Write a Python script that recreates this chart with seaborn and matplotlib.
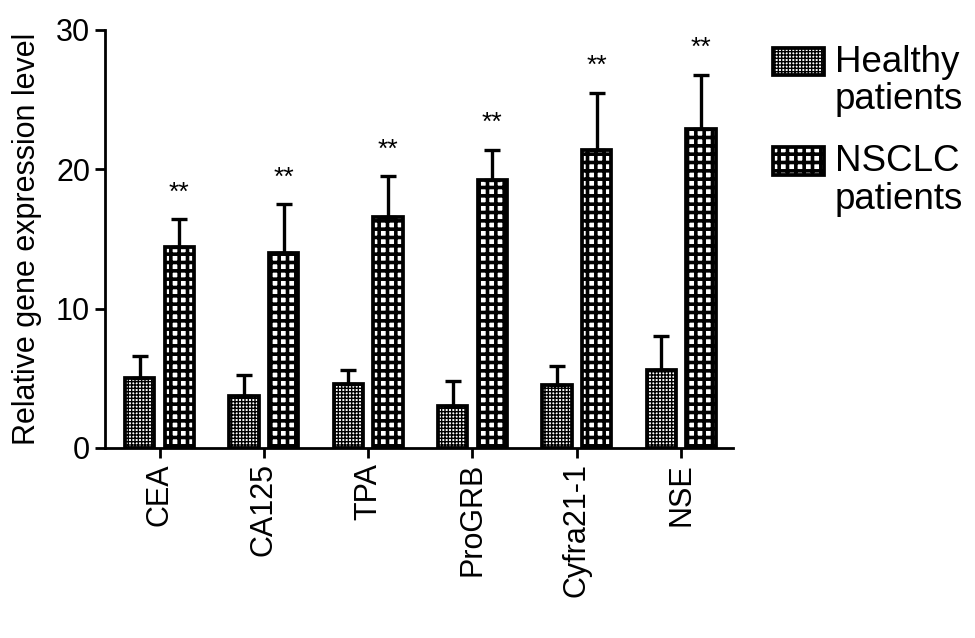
import matplotlib
matplotlib.use("Agg")
import matplotlib.pyplot as plt
from matplotlib.patches import Patch, Rectangle
from matplotlib.legend_handler import HandlerPatch
from matplotlib.container import BarContainer
import seaborn as sns
import pandas as pd

markers = ["CEA", "CA125", "TPA", "ProGRB", "Cyfra21-1", "NSE"]
groups = ["Healthy\npatients", "NSCLC\npatients"]
healthy_mean = [5.0, 3.7, 4.6, 3.0, 4.5, 5.6]
healthy_err = [1.6, 1.5, 1.0, 1.8, 1.4, 2.4]
nsclc_mean = [14.4, 14.0, 16.6, 19.2, 21.4, 22.9]
nsclc_err = [2.0, 3.5, 2.9, 2.2, 4.1, 3.9]
sig_labels = ["**", "**", "**", "**", "**", "**"]

df = pd.DataFrame({
    "marker": markers * 2,
    "group": [groups[0]] * len(markers) + [groups[1]] * len(markers),
    "value": healthy_mean + nsclc_mean,
})

sns.set_theme(style="ticks")
plt.rcParams["font.family"] = ["Liberation Sans", "DejaVu Sans"]
plt.rcParams["hatch.linewidth"] = 1.2
plt.rcParams["text.color"] = "black"
plt.rcParams["axes.labelcolor"] = "black"

fig = plt.figure(figsize=(9.75, 6.38), dpi=100)
ax = fig.add_axes([0.108, 0.298, 0.644, 0.655])

sns.barplot(data=df, x="marker", y="value", hue="group", order=markers,
            hue_order=groups, palette=["white", "white"], edgecolor="black",
            linewidth=2.7, width=0.76, gap=0.26, errorbar=None, legend=False,
            ax=ax)

hatches = ["+++++", "++"]
hatch_lw = [1.0, 2.6]
errs = [healthy_err, nsclc_err]
bar_conts = [c for c in ax.containers if isinstance(c, BarContainer)]
for ci, cont in enumerate(bar_conts):
    xs, hs = [], []
    for bar in cont:
        bar.set_hatch(hatches[ci])
        if hasattr(bar, "set_hatch_linewidth"):
            bar.set_hatch_linewidth(hatch_lw[ci])
        xs.append(bar.get_x() + bar.get_width() / 2)
        hs.append(bar.get_height())
    ax.errorbar(xs, hs, yerr=[[0] * len(hs), errs[ci]], fmt="none",
                ecolor="black", elinewidth=2.4, capsize=6, capthick=2.4,
                zorder=1)
    if ci == 1:
        for x, h, e, s in zip(xs, hs, errs[ci], sig_labels):
            ax.text(x, h + e + 1.9, s, ha="center", va="center",
                    fontsize=19, color="black")

ax.set_ylim(0, 30)
ax.set_yticks([0, 10, 20, 30])
ax.set_xlim(-0.52, 5.5)
ax.set_xlabel("")
ax.set_ylabel("Relative gene expression level", fontsize=22, labelpad=10,
              color="black")
sns.despine(ax=ax)
for sp in ["left", "bottom"]:
    ax.spines[sp].set_linewidth(2)
    ax.spines[sp].set_color("black")
ax.tick_params(axis="both", direction="out", length=7, width=2,
               labelsize=22, colors="black", pad=4)
ax.tick_params(axis="x", labelrotation=90)


def top_patch(legend, orig_handle, xdescent, ydescent, width, height, fontsize):
    return Rectangle(xy=(-xdescent, -ydescent + 0.55 * fontsize),
                     width=width, height=height)


handles = [Patch(facecolor="white", edgecolor="black", linewidth=2.7,
                 hatch=hatches[i]) for i in range(2)]
leg = ax.legend(handles, groups, loc="upper left", bbox_to_anchor=(1.04, 1.0),
                frameon=False, fontsize=26.5, handlelength=1.38,
                handleheight=0.78, handletextpad=0.3, labelspacing=0.72,
                borderaxespad=0,
                handler_map={Patch: HandlerPatch(patch_func=top_patch)})
for t in leg.get_texts():
    t.set_color("black")
    t.set_linespacing(1.1)
for i, h in enumerate(leg.legend_handles):
    h.set_hatch(hatches[i])
    if hasattr(h, "set_hatch_linewidth"):
        h.set_hatch_linewidth(hatch_lw[i])

fig.savefig("out.png", dpi=100)
